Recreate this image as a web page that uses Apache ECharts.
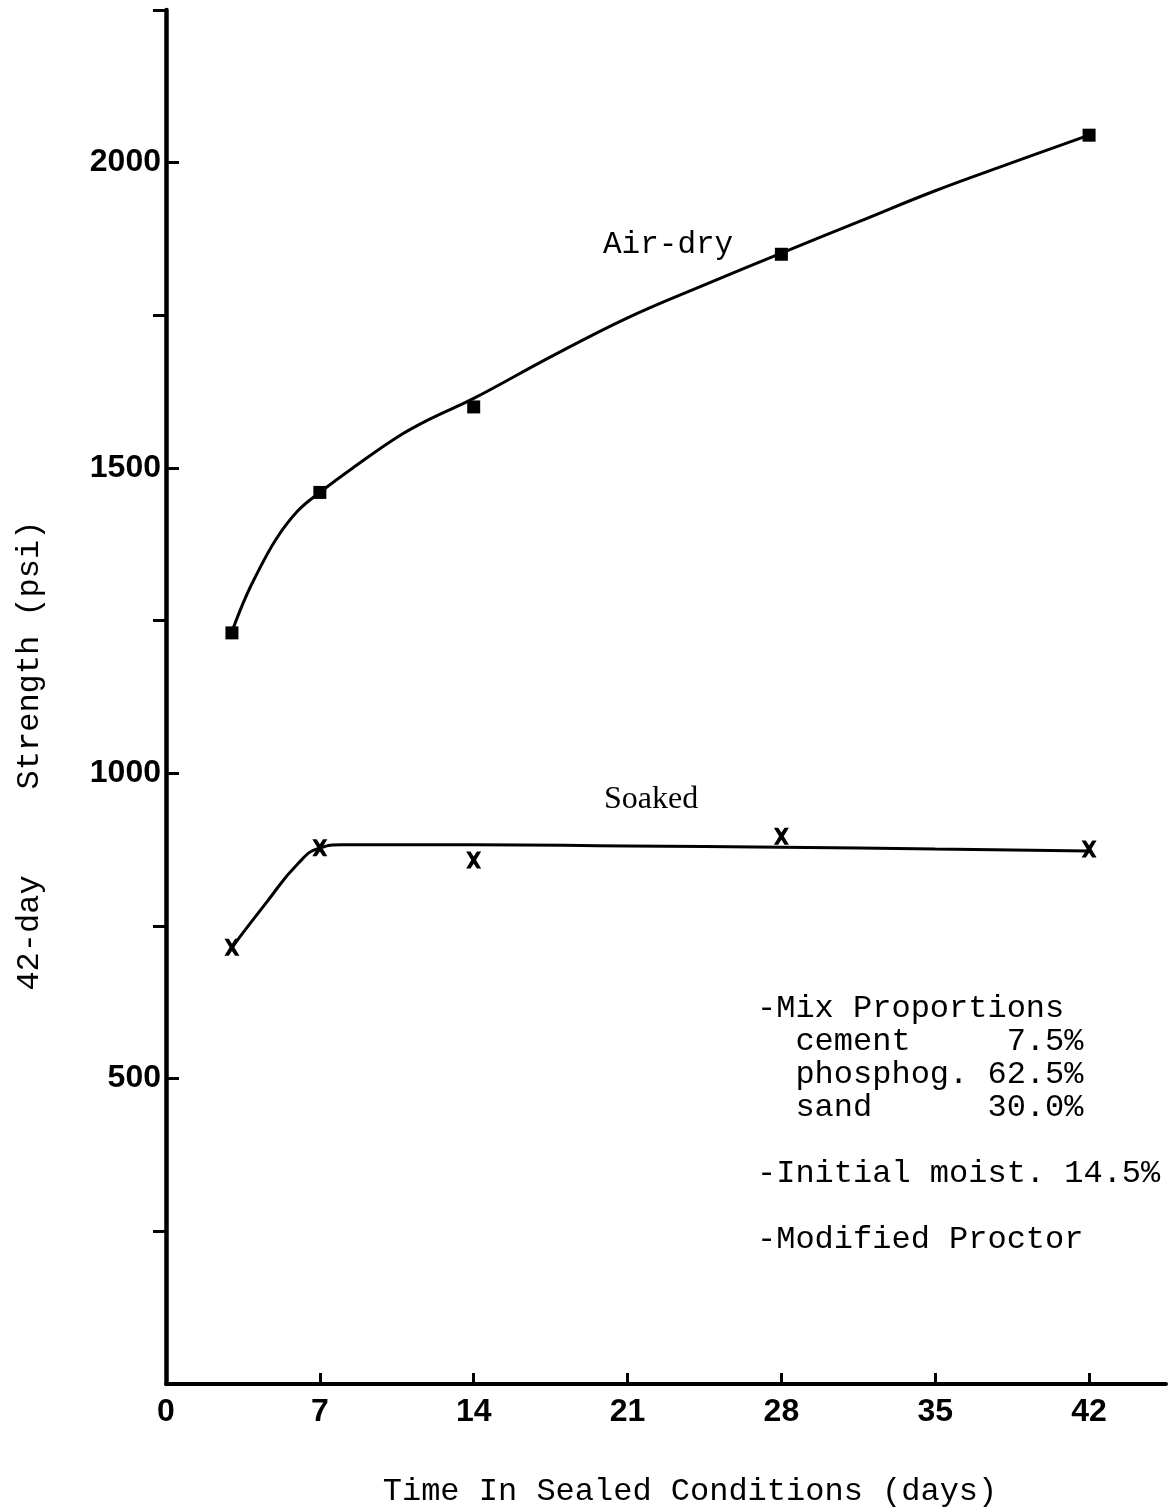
<!DOCTYPE html>
<html>
<head>
<meta charset="utf-8">
<script src="https://cdn.jsdelivr.net/npm/echarts@6/dist/echarts.min.js"></script>
<style>
html,body{margin:0;padding:0;background:#fff;}
#chart{width:1168px;height:1511px;}
</style>
</head>
<body>
<div id="chart"></div>
<script>
// ---- data ----
var airDays = [3, 7, 14, 28, 42];
var airStrength = [1230, 1460, 1600, 1850, 2045];
var soakDays = [3, 7, 14, 28, 42];
var soakStrength = [715, 878, 858, 897, 876];

// hand-drawn fitted curves
var airCurveDays = [3, 3.5, 4, 5, 6, 7, 8.5, 10.5, 12, 14, 17.5, 21, 24.5, 28, 31.5, 35, 38.5, 42];
var airCurveVals = [1232, 1278, 1317, 1383, 1430, 1460, 1500, 1550, 1580, 1614, 1682, 1746, 1800, 1852, 1903, 1954, 2000, 2045];
var soakCurveDays = [3, 4.6, 6.0, 7.0, 8.0, 14, 21, 28, 35, 42];
var soakCurveVals = [715, 790, 852, 878, 883, 883, 881, 879, 876, 873];

var xTickValues = [0, 7, 14, 21, 28, 35, 42];
var yLabelValues = [500, 1000, 1500, 2000];
var yMinorValues = [250, 750, 1250, 1750, 2250];

var seriesNames = ['Air-dry', 'Soaked'];
var xTitle = 'Time In Sealed Conditions (days)';
var yTitleA = '42-day';
var yTitleB = 'Strength (psi)';
var noteLines = [
  '-Mix Proportions',
  '  cement     7.5%',
  '  phosphog. 62.5%',
  '  sand      30.0%',
  '',
  '-Initial moist. 14.5%',
  '',
  '-Modified Proctor'
];

function zip(a, b) { return a.map(function (v, i) { return [v, b[i]]; }); }

var XMARK = 'path://M0,0 L4,0 L7,4.6 L10,0 L14,0 L9.2,8 L14,16 L10,16 L7,11.4 L4,16 L0,16 L4.8,8 Z';
var mono = '"Liberation Mono", "DejaVu Sans Mono", monospace';
var boldSans = '"Liberation Sans", Arial, sans-serif';

var chart = echarts.init(document.getElementById('chart'), null, {renderer: 'canvas'});
chart.setOption({
  backgroundColor: '#ffffff',
  animation: false,
  grid: {left: 166, right: 2, top: 10, bottom: 127, containLabel: false},
  xAxis: {
    type: 'value', min: 0, max: 45.5, interval: 7,
    axisLine: {show: true, lineStyle: {color: '#000', width: 4}},
    axisTick: {show: true, inside: true, length: 11, lineStyle: {color: '#000', width: 3},
      customValues: xTickValues.slice(1)},
    axisLabel: {show: true, customValues: xTickValues, color: '#000', fontSize: 32,
      fontWeight: 'bold', fontFamily: boldSans, margin: 12,
      formatter: function (v) { return String(v); }},
    splitLine: {show: false}
  },
  yAxis: [{
    type: 'value', min: 0, max: 2250, interval: 250, position: 'left',
    axisLine: {show: true, lineStyle: {color: '#000', width: 4.5}},
    axisTick: {show: true, inside: true, length: 13, lineStyle: {color: '#000', width: 3},
      customValues: yLabelValues},
    axisLabel: {show: true, customValues: yLabelValues, color: '#000', fontSize: 32,
      fontWeight: 'bold', fontFamily: boldSans, margin: 5,
      formatter: function (v) { return String(v); }},
    splitLine: {show: false}
  }, {
    type: 'value', min: 0, max: 2250, interval: 250, position: 'left',
    axisLine: {show: false},
    axisTick: {show: true, inside: false, length: 13, lineStyle: {color: '#000', width: 3},
      customValues: yMinorValues},
    axisLabel: {show: false},
    splitLine: {show: false}
  }],
  series: [{
    name: seriesNames[0] + ' curve', type: 'line', smooth: 0.4,
    showSymbol: false, data: zip(airCurveDays, airCurveVals),
    lineStyle: {color: '#000', width: 3}, z: 2
  }, {
    name: seriesNames[0], type: 'scatter', symbol: 'rect', symbolSize: 13,
    data: zip(airDays, airStrength), itemStyle: {color: '#000', opacity: 1}, z: 3
  }, {
    name: seriesNames[1] + ' curve', type: 'line', smooth: 0.5,
    showSymbol: false, data: zip(soakCurveDays, soakCurveVals),
    lineStyle: {color: '#000', width: 3}, z: 2
  }, {
    name: seriesNames[1], type: 'scatter', symbol: XMARK, symbolSize: [15, 17],
    data: zip(soakDays, soakStrength), itemStyle: {color: '#000', opacity: 1}, z: 3
  }],
  graphic: [
    {type: 'text', x: 603, y: 245, style: {text: seriesNames[0], font: '31px ' + mono, fill: '#000', textAlign: 'left', textVerticalAlign: 'middle'}},
    {type: 'text', x: 604, y: 800, style: {text: seriesNames[1], font: '32px "Liberation Serif", serif', fill: '#000', textAlign: 'left', textVerticalAlign: 'middle'}},
    {type: 'text', x: 690, y: 1492, style: {text: xTitle, font: '32px ' + mono, fill: '#000', textAlign: 'center', textVerticalAlign: 'middle'}},
    {type: 'text', x: 30, y: 933, rotation: Math.PI / 2, style: {text: yTitleA, font: '32px ' + mono, fill: '#000', textAlign: 'center', textVerticalAlign: 'middle'}},
    {type: 'text', x: 30, y: 655, rotation: Math.PI / 2, style: {text: yTitleB, font: '32px ' + mono, fill: '#000', textAlign: 'center', textVerticalAlign: 'middle'}},
    {type: 'text', x: 757, y: 992, style: {text: noteLines.join('\n'), font: '32px ' + mono, lineHeight: 33, fill: '#000', textAlign: 'left', textVerticalAlign: 'top'}}
  ]
});
</script>
</body>
</html>
